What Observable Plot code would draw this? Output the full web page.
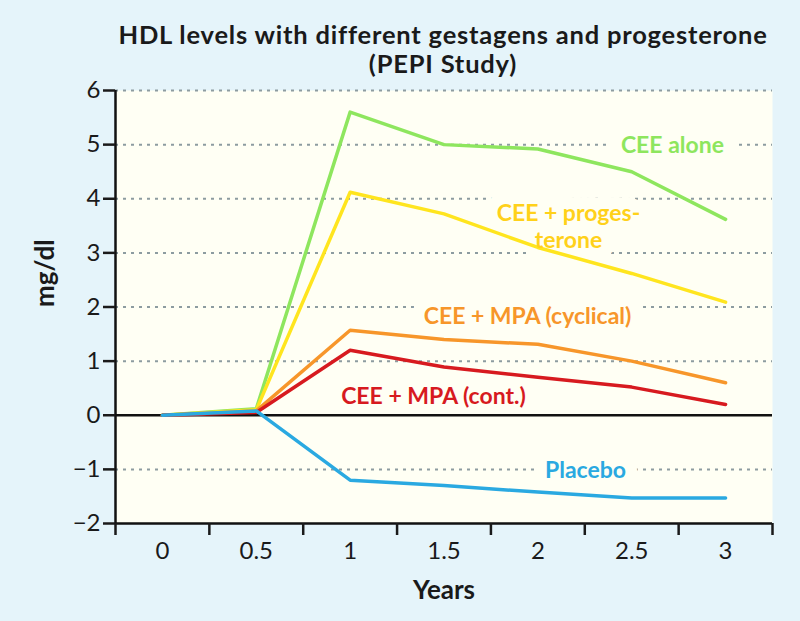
<!DOCTYPE html>
<html><head><meta charset="utf-8">
<script src="https://cdn.jsdelivr.net/npm/d3@7"></script>
<script src="https://cdn.jsdelivr.net/npm/@observablehq/plot@0.6"></script>
<style>
body{margin:0;background:#e5f4fa;}
#title{height:70px;box-sizing:border-box;padding-left:86px;padding-top:20px;text-align:center;font-family:Lato,sans-serif;font-weight:700;font-size:25.5px;letter-spacing:0.8px;line-height:29px;color:#1a1a1a;white-space:nowrap;}
</style></head><body>
<div id="title">HDL levels with different gestagens and progesterone<br>(PEPI Study)</div>
<div id="chart"></div>
<script>
const years = [0, 0.5, 1, 1.5, 2, 2.5, 3];
const ceeAlone = [0, 0.12, 5.6, 5.0, 4.92, 4.5, 3.62];
const ceeProg = [0, 0.1, 4.12, 3.72, 3.1, 2.62, 2.09];
const ceeMpaCyc = [0, 0.08, 1.57, 1.4, 1.31, 1.0, 0.6];
const ceeMpaCont = [0, 0.05, 1.2, 0.89, 0.7, 0.52, 0.2];
const placebo = [0, 0.08, -1.2, -1.3, -1.42, -1.53, -1.53];
const yTicks = [-2, -1, 0, 1, 2, 3, 4, 5, 6];
const gridValues = [-1, 1, 2, 3, 4, 5, 6];
const xBoundaries = [-0.25, 0.25, 0.75, 1.25, 1.75, 2.25, 2.75, 3.25];

const seriesNames = ["CEE alone", "CEE + progesterone", "CEE + MPA (cyclical)", "CEE + MPA (cont.)", "Placebo"];
const seriesValues = [ceeAlone, ceeProg, ceeMpaCyc, ceeMpaCont, placebo];
const seriesColors = ["#8ee65e", "#ffe51e", "#f7962a", "#d71a1f", "#2aa9e1"];
const labelColors = ["#8ee65e", "#ffd11a", "#f7962a", "#d71a1f", "#2aa9e1"];
const labelTexts = ["CEE alone", "CEE + proges-\nterone", "CEE + MPA (cyclical)", "CEE + MPA (cont.)", "Placebo"];
const labelX = [2.717, 2.163, 1.945, 1.444, 2.254];
const labelY = [5.0, 3.5, 1.85, 0.37, -1.0];

const rows = [];
seriesNames.forEach((s, i) => years.forEach((yr, j) => rows.push({series: s, year: yr, value: seriesValues[i][j]})));
const labels = labelTexts.map((t, i) => ({text: t, x: labelX[i], y: labelY[i], color: labelColors[i]}));

const cream = "#fffff4";
const font = "Lato, sans-serif";
const chart = Plot.plot({
  width: 800, height: 551,
  marginLeft: 115, marginRight: 28, marginTop: 20, marginBottom: 98,
  style: {fontFamily: font, background: "transparent", color: "#1a1a1a"},
  x: {domain: [-0.25, 3.25]},
  y: {domain: [-2, 6]},
  color: {domain: seriesNames, range: seriesColors},
  marks: [
    Plot.frame({fill: cream, stroke: null}),
    Plot.ruleY(gridValues, {stroke: "#8d9ca0", strokeWidth: 2, strokeDasharray: "3,5"}),
    Plot.text(labels, {x: "x", y: "y", text: "text", fill: cream, stroke: cream, strokeWidth: 24, fontSize: 23, fontWeight: 700, lineHeight: 1.17}),
    Plot.ruleY([0], {stroke: "#111", strokeWidth: 2.5}),
    Plot.ruleY([-2], {stroke: "#111", strokeWidth: 2.5}),
    Plot.ruleX([-0.25], {y1: -2, y2: 6, stroke: "#111", strokeWidth: 2.5}),
    Plot.axisY({ticks: yTicks, tickSize: 12, tickPadding: 3, fontSize: 24, label: null, tickFormat: d3.format("d"), strokeWidth: 2.5}),
    Plot.axisX({ticks: xBoundaries, tickSize: 12, tickFormat: () => "", label: null, strokeWidth: 2.5}),
    Plot.axisX({ticks: years, tickSize: 0, tickPadding: 18, fontSize: 24, label: null, tickFormat: d => String(d)}),
    Plot.line(rows, {x: "year", y: "value", z: "series", stroke: "series", strokeWidth: 3.5}),
    Plot.text(labels, {x: "x", y: "y", text: "text", fill: "color", fontSize: 23, fontWeight: 700, lineHeight: 1.17}),
    Plot.text(["mg/dl"], {frameAnchor: "left", rotate: -90, dx: -70, dy: 0, fontSize: 26, fontWeight: 700, fill: "#1a1a1a"}),
    Plot.text(["Years"], {frameAnchor: "bottom", lineAnchor: "middle", dy: 67, fontSize: 26, fontWeight: 700, fill: "#1a1a1a"})
  ]
});
document.getElementById("chart").appendChild(chart);
</script>
</body></html>
